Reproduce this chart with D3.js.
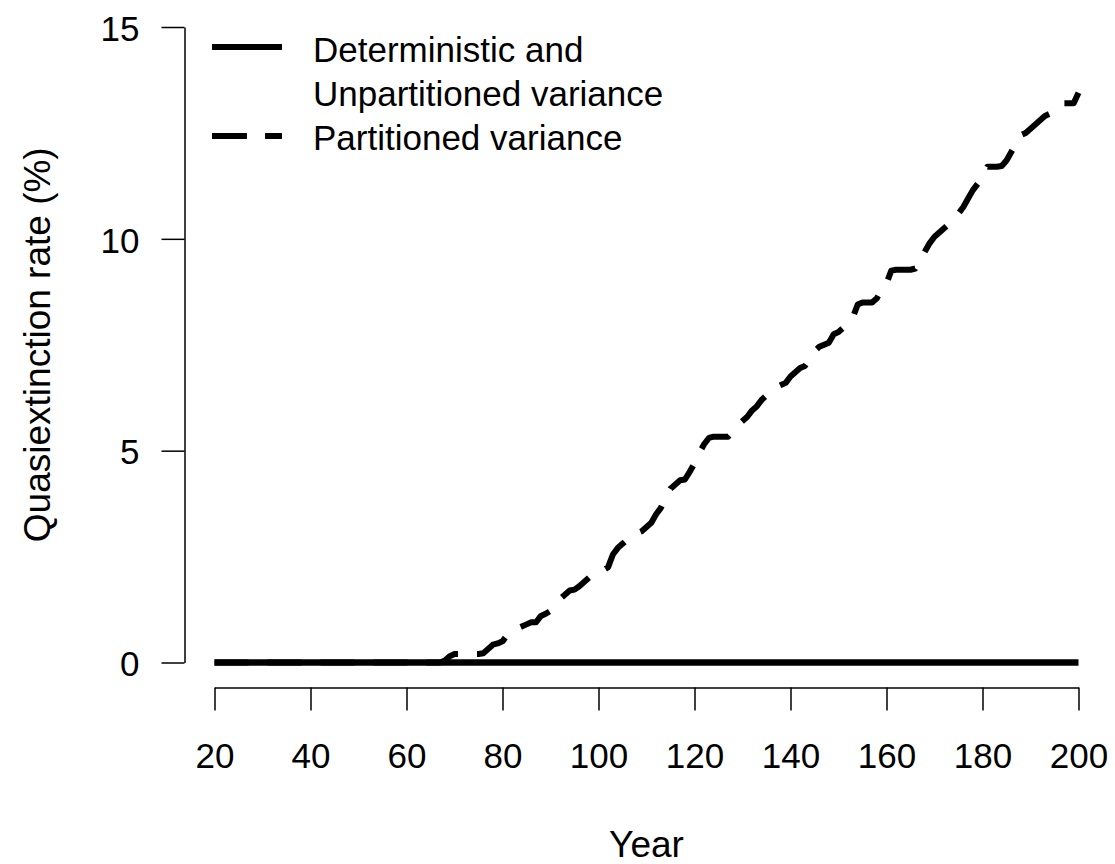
<!DOCTYPE html>
<html lang="en">
<head>
  <meta charset="UTF-8" />
  <title>Quasiextinction rate</title>
  <script src="https://d3js.org/d3.v7.min.js"></script>
  <style>
    body { margin: 0; background: #fff; }
    svg { display: block; background: #fff; font-family: "Liberation Sans", Arial, sans-serif; }
    .axis path, .axis line { stroke: #000; stroke-width: 1.5px; }
    .axis text { font-size: 35px; fill: #000; font-family: "Liberation Sans", Arial, sans-serif; }
    .title { font-size: 37px; fill: #000; }
    .legend text { font-size: 35px; fill: #000; }
  </style>
</head>
<body>

<svg width="1115" height="864"></svg>

<script>
  // Data
  const xTicks = [20, 40, 60, 80, 100, 120, 140, 160, 180, 200];
  const yTicks = [0, 5, 10, 15];

  // Deterministic and Unpartitioned variance: flat at 0
  const detYears = [20, 200];
  const detValues = [0, 0];

  // Partitioned variance, one value per year 20..200
  const partYears = d3.range(20, 201);
  const partValues = [
    0, 0, 0, 0, 0, 0, 0, 0, 0, 0,               // 20-29
    0, 0, 0, 0, 0, 0, 0, 0, 0, 0,               // 30-39
    0, 0, 0, 0, 0, 0, 0, 0, 0, 0,               // 40-49
    0, 0, 0, 0, 0, 0, 0, 0, 0, 0,               // 50-59
    0, 0, 0, 0, 0, 0, 0, 0, 0.05, 0.15,         // 60-69
    0.2, 0.2, 0.2, 0.2, 0.2, 0.2, 0.22, 0.32, 0.42, 0.45,   // 70-79
    0.5, 0.65, 0.72, 0.8, 0.85, 0.9, 0.95, 0.95, 1.1, 1.15, // 80-89
    1.22, 1.35, 1.5, 1.6, 1.7, 1.72, 1.8, 1.9, 2.0, 2.1,    // 90-99
    2.15, 2.18, 2.25, 2.55, 2.7, 2.8, 2.9, 3.0, 3.05, 3.1,  // 100-109
    3.2, 3.3, 3.5, 3.65, 3.9, 4.1, 4.2, 4.3, 4.32, 4.5,     // 110-119
    4.7, 4.95, 5.15, 5.3, 5.33, 5.33, 5.33, 5.33, 5.45, 5.6, // 120-129
    5.7, 5.8, 5.95, 6.05, 6.2, 6.3, 6.4, 6.5, 6.55, 6.6,    // 130-139
    6.75, 6.85, 6.95, 7.0, 7.15, 7.35, 7.45, 7.5, 7.55, 7.75, // 140-149
    7.8, 7.9, 8.05, 8.15, 8.45, 8.5, 8.5, 8.5, 8.6, 8.8,    // 150-159
    8.95, 9.25, 9.27, 9.27, 9.27, 9.27, 9.3, 9.5, 9.7, 9.9, // 160-169
    10.05, 10.15, 10.25, 10.35, 10.5, 10.6, 10.75, 10.95, 11.15, 11.3, // 170-179
    11.5, 11.7, 11.7, 11.7, 11.72, 11.85, 12.05, 12.25, 12.45, 12.5,  // 180-189
    12.6, 12.7, 12.8, 12.9, 12.95, 13.05, 13.15, 13.2, 13.2, 13.2,    // 190-199
    13.45                                        // 200
  ];

  const legendLabels = [["Deterministic and", "Unpartitioned variance"], ["Partitioned variance"]];

  const svg = d3.select("svg");

  // Scales
  const x = d3.scaleLinear().domain([20, 200]).range([214.5, 1078.5]);
  const y = d3.scaleLinear().domain([0, 15]).range([662.5, 27]);

  // X axis
  const xAxis = svg.append("g")
    .attr("class", "axis")
    .attr("transform", "translate(0,687.5)")
    .call(d3.axisBottom(x).tickValues(xTicks).tickSize(23).tickSizeOuter(0).tickFormat(d3.format("d")));
  xAxis.selectAll("text").attr("y", 80).attr("dy", 0);

  // Y axis
  const yAxis = svg.append("g")
    .attr("class", "axis")
    .attr("transform", "translate(184.5,0)")
    .call(d3.axisLeft(y).tickValues(yTicks).tickSize(23).tickSizeOuter(0).tickFormat(d3.format("d")));
  yAxis.selectAll("text").attr("x", -45).attr("dy", "0.38em");

  // Lines
  const line = d3.line().x(d => x(d[0])).y(d => y(d[1]));

  svg.append("path")
    .datum(partYears.map((yr, i) => [yr, partValues[i]]))
    .attr("d", line)
    .attr("fill", "none")
    .attr("stroke", "#000")
    .attr("stroke-width", 6)
    .attr("stroke-dasharray", "34,19")
    .attr("stroke-linejoin", "round");

  svg.append("path")
    .datum(detYears.map((yr, i) => [yr, detValues[i]]))
    .attr("d", line)
    .attr("fill", "none")
    .attr("stroke", "#000")
    .attr("stroke-width", 6.5);

  // Axis titles
  svg.append("text")
    .attr("class", "title")
    .attr("x", x(110))
    .attr("y", 857)
    .attr("text-anchor", "middle")
    .text("Year");

  svg.append("text")
    .attr("class", "title")
    .attr("transform", `translate(50,${y(7.5)}) rotate(-90)`)
    .attr("text-anchor", "middle")
    .text("Quasiextinction rate (%)");

  // Legend
  const legend = svg.append("g").attr("class", "legend");

  legend.append("line")
    .attr("x1", 212).attr("x2", 282)
    .attr("y1", 47).attr("y2", 47)
    .attr("stroke", "#000").attr("stroke-width", 6);

  legend.append("line")
    .attr("x1", 212).attr("x2", 282)
    .attr("y1", 136).attr("y2", 136)
    .attr("stroke", "#000").attr("stroke-width", 6)
    .attr("stroke-dasharray", "35,18");

  legend.append("text").attr("x", 313).attr("y", 62).text(legendLabels[0][0]);
  legend.append("text").attr("x", 313).attr("y", 106).text(legendLabels[0][1]);
  legend.append("text").attr("x", 313).attr("y", 150).text(legendLabels[1][0]);
</script>

</body>
</html>
